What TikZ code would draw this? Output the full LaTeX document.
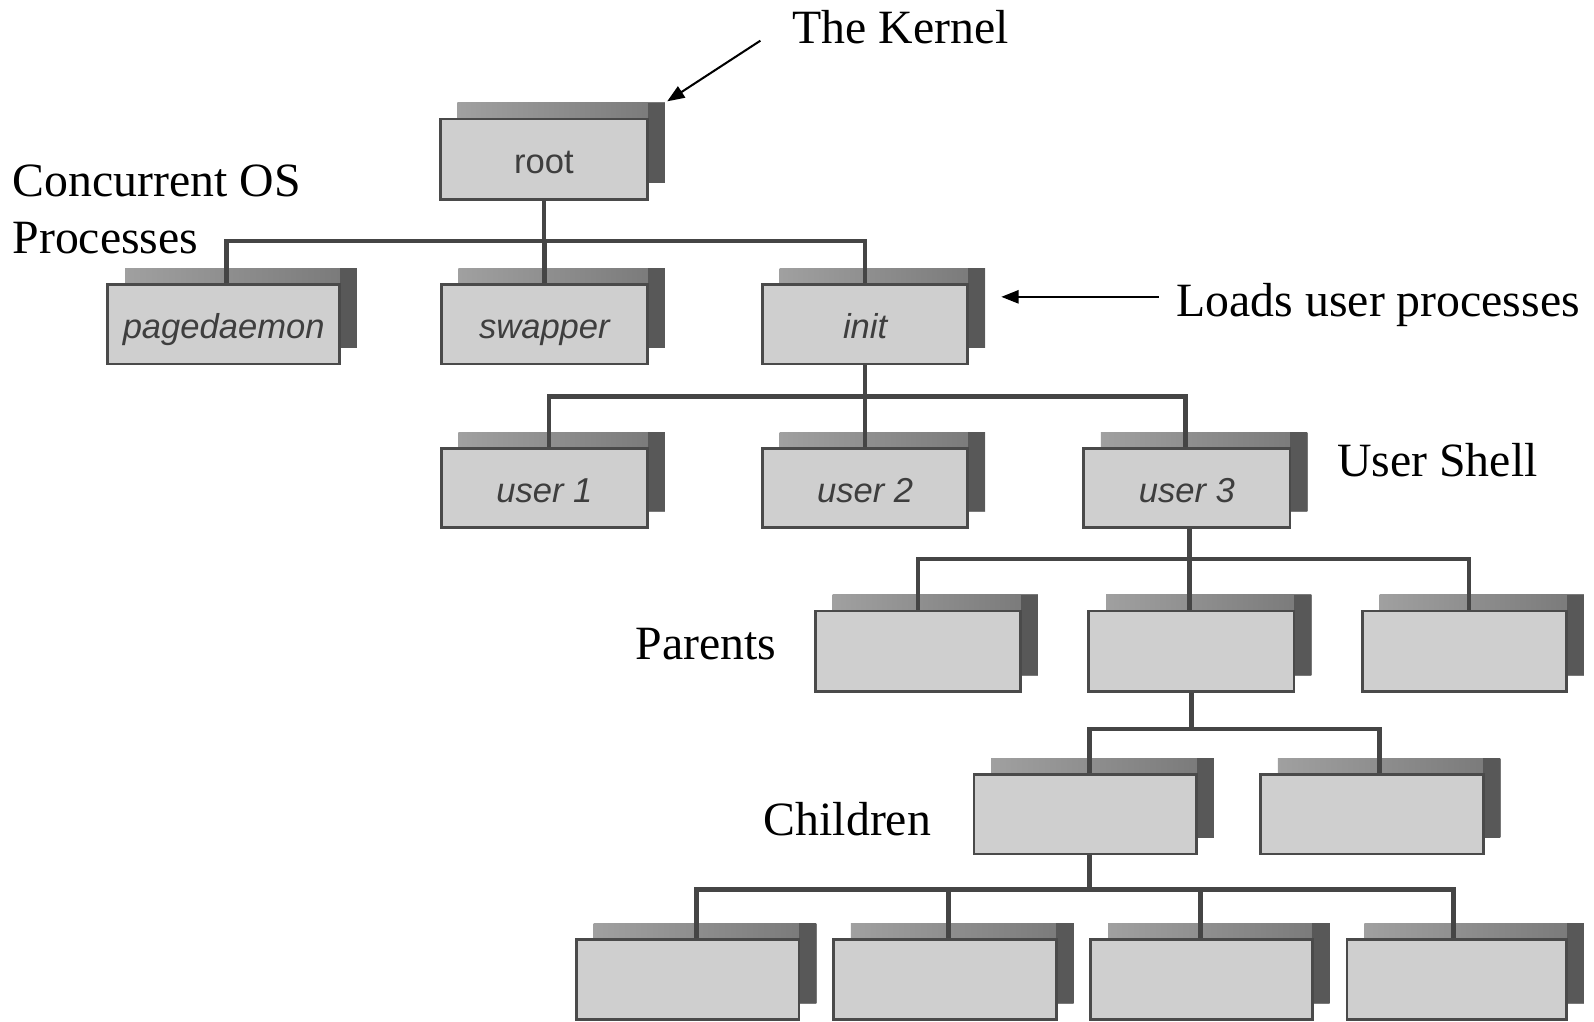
\documentclass[tikz,border=0pt]{standalone}
\usepackage{fontspec}
\setmainfont{Liberation Serif}
\newfontfamily\boxfont{Liberation Sans}
\usetikzlibrary{arrows.meta}

\definecolor{boxfill}{HTML}{CFCFCF}
\definecolor{boxedge}{HTML}{4A4A4A}
\definecolor{shadelight}{HTML}{A0A0A0}
\definecolor{shademid}{HTML}{787878}
\definecolor{shadedark}{HTML}{585858}
\definecolor{wirecol}{HTML}{454545}
\definecolor{boxtext}{HTML}{3E3E3E}

\tikzset{
  procbox/.style={draw=boxedge, fill=boxfill, line width=1.3pt, inner sep=0pt,
    text height=14pt, text depth=0pt,
    font=\boxfont\fontsize{17}{20}\selectfont\itshape, text=boxtext},
  wire/.style={draw=wirecol, line width=2.3pt, line join=miter},
  note/.style={font=\fontsize{23.5}{28}\selectfont, inner sep=0pt, anchor=base west},
  pointer/.style={draw=black, line width=1pt, -{Triangle[length=8.5pt,width=6.5pt]}},
}

% process box with its offset shadow: name, left, top, right, bottom, label
\newcommand\procnode[6]{%
  \shade[left color=shadelight, right color=shademid] (#2+17,#3-16) rectangle (#4+17,#5-16);
  \fill[shadedark] (#4,#3-16) rectangle (#4+17,#5-16);
  \node[procbox, minimum width={(#4-#2)*0.5pt}, minimum height={(#5-#3)*0.5pt}]
    (#1) at ({(#2+#4)/2},{(#3+#5)/2}) {#6};
}

\begin{document}
\begin{tikzpicture}[x=0.5pt, y=-0.5pt]
\fill[white] (0,0) rectangle (1568,1005);
\useasboundingbox (0,0) rectangle (1568,1005);

% process tree
\procnode{root}{433}{117}{637}{196}{\upshape root}
\procnode{pagedaemon}{106}{280}{334}{358}{pagedaemon}
\procnode{swapper}{434}{280}{637}{358}{swapper}
\procnode{init}{750}{280}{952}{358}{init}
\procnode{userA}{434}{441}{637}{519}{user 1}
\procnode{userB}{750}{441}{952}{519}{user 2}
\procnode{userC}{1066}{441}{1269}{519}{user 3}
\procnode{parA}{802}{601}{1004}{680}{}
\procnode{parB}{1071}{601}{1273}{680}{}
\procnode{parC}{1340}{601}{1541}{680}{}
\procnode{kidA}{958}{762}{1177}{840}{}
\procnode{kidB}{1240}{762}{1459}{840}{}
\procnode{leafA}{567}{924}{786}{1003}{}
\procnode{leafB}{820}{924}{1039}{1003}{}
\procnode{leafC}{1073}{924}{1291}{1003}{}
\procnode{leafD}{1325}{924}{1541}{1003}{}

% root -> system processes
\coordinate (busAL) at (223,237);
\coordinate (busAR) at (851,237);
\draw[wire] (root.south) -- (root.south |- busAL);
\draw[wire] (busAL |- pagedaemon.north) -- (busAL) -- (busAR) -- (busAR |- init.north);
\draw[wire] (swapper.north) -- (swapper.north |- busAL);

% init -> user shells
\coordinate (busBL) at (540,390);
\coordinate (busBR) at (1166,390);
\draw[wire] (init.south) -- (init.south |- busBL);
\draw[wire] (busBL |- userA.north) -- (busBL) -- (busBR) -- (busBR |- userC.north);
\draw[wire] (userB.north) -- (userB.north |- busBL);

% user 3 -> parents
\coordinate (busCL) at (903,550);
\coordinate (busCM) at (1170,550);
\coordinate (busCR) at (1445,550);
\draw[wire] (busCM |- userC.south) -- (busCM |- parB.north);
\draw[wire] (busCL |- parA.north) -- (busCL) -- (busCR) -- (busCR |- parC.north);

% middle parent -> children
\coordinate (busDL) at (1072,717);
\coordinate (busDM) at (1172,717);
\coordinate (busDR) at (1357,717);
\draw[wire] (busDM |- parB.south) -- (busDM);
\draw[wire] (busDL |- kidA.north) -- (busDL) -- (busDR) -- (busDR |- kidB.north);

% first child -> grandchildren
\coordinate (busEL) at (685,875);
\coordinate (busEB) at (933,875);
\coordinate (busEM) at (1072,875);
\coordinate (busEC) at (1181,875);
\coordinate (busER) at (1430,875);
\draw[wire] (busEM |- kidA.south) -- (busEM);
\draw[wire] (busEL |- leafA.north) -- (busEL) -- (busER) -- (busER |- leafD.north);
\draw[wire] (busEB) -- (busEB |- leafB.north);
\draw[wire] (busEC) -- (busEC |- leafC.north);

% annotations
\node[note] (kernel) at (779,43) {The Kernel};
\coordinate (kernelTail) at (748,40);
\draw[pointer] (kernelTail) -- ([shift={(18,-16)}]root.north east);

\node[note] (concA) at (12,193) {Concurrent OS};
\node[note] (concB) at (12,249) {Processes};

\node[note] (loads) at (1157,311) {Loads user processes};
\coordinate (loadsTail) at (1140,292);
\coordinate (loadsTip) at (985,292);
\draw[pointer] (loadsTail) -- (loadsTip);

\node[note] (shell) at (1315,469) {User Shell};
\node[note] (parents) at (625,649) {Parents};
\node[note] (children) at (751,822) {Children};
\end{tikzpicture}
\end{document}
